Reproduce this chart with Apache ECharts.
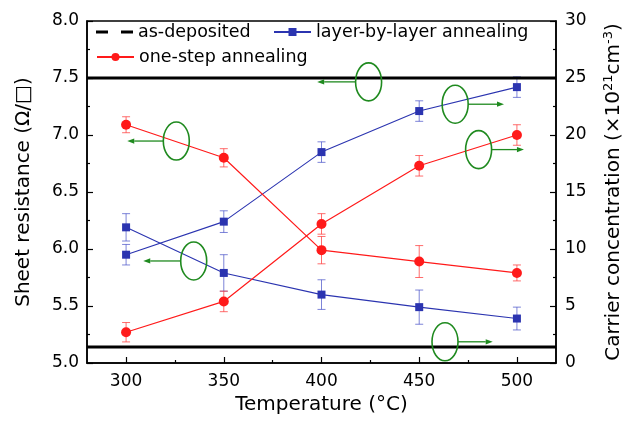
<!DOCTYPE html>
<html>
<head>
<meta charset="utf-8">
<script src="https://cdn.jsdelivr.net/npm/echarts@6/dist/echarts.min.js"></script>
<style>
  html, body { margin: 0; padding: 0; background: #fff; }
  #chart { width: 629px; height: 425px; }
</style>
</head>
<body>
<div id="chart"></div>
<script>
// Annealing temperatures (°C)
const temperatures = [300, 350, 400, 450, 500];
const xTicks = [300, 350, 400, 450, 500];
const xMinorTicks = [325, 375, 425, 475];

// Layer-by-layer annealing
const lblSheet = [6.19, 5.79, 5.60, 5.49, 5.39];       // Ω/□
const lblSheetErr = [0.12, 0.16, 0.13, 0.15, 0.10];
const lblCarrier = [9.5, 12.4, 18.5, 22.1, 24.2];      // ×10^21 cm^-3
const lblCarrierErr = [0.9, 0.95, 0.9, 0.9, 0.9];

// One-step annealing
const oneSheet = [7.09, 6.80, 5.99, 5.89, 5.79];
const oneSheetErr = [0.07, 0.08, 0.12, 0.14, 0.07];
const oneCarrier = [2.7, 5.4, 12.2, 17.3, 20.0];
const oneCarrierErr = [0.85, 0.9, 0.9, 0.9, 0.9];

// As-deposited reference levels
const asDepSheet = 7.5;
const asDepCarrier = 1.4;

// Oval call-outs: [centre temperature, centre sheet-resistance level, arrow tip temperature]
const callouts = [
  [325.7, 6.947, 300.6],
  [334.6, 5.895, 308.8],
  [424.1, 7.466, 397.8],
  [468.4, 7.270, 493.4],
  [480.4, 6.872, 503.6],
  [463.2, 5.186, 487.6]
];

const FONT = 'DejaVu Sans';
const RED = '#ff1a1a';
const BLUE = '#2b34b0';
const RED_ERR = 'rgba(255,60,60,0.75)';
const BLUE_ERR = 'rgba(70,80,200,0.7)';
const GREEN = '#1f8a1f';

function errorBars(values, errs, yAxisIndex, color) {
  return {
    type: 'custom',
    yAxisIndex: yAxisIndex,
    z: 1,
    silent: true,
    data: temperatures.map((t, i) => [t, values[i] - errs[i], values[i] + errs[i]]),
    encode: { x: 0, y: [1, 2] },
    renderItem: function (params, api) {
      const lo = api.coord([api.value(0), api.value(1)]);
      const hi = api.coord([api.value(0), api.value(2)]);
      const hw = 4;
      const st = { stroke: color, lineWidth: 1 };
      return {
        type: 'group',
        children: [
          { type: 'line', shape: { x1: lo[0], y1: lo[1], x2: hi[0], y2: hi[1] }, style: st },
          { type: 'line', shape: { x1: lo[0] - hw, y1: lo[1], x2: lo[0] + hw, y2: lo[1] }, style: st },
          { type: 'line', shape: { x1: hi[0] - hw, y1: hi[1], x2: hi[0] + hw, y2: hi[1] }, style: st }
        ]
      };
    }
  };
}

function pairs(values) {
  return temperatures.map((t, i) => [t, values[i]]);
}

const chart = echarts.init(document.getElementById('chart'), null, { renderer: 'canvas' });

const legendText = { fontFamily: FONT, fontSize: 17.5, color: '#000' };

const option = {
  animation: false,
  backgroundColor: '#fff',
  textStyle: { fontFamily: FONT, color: '#000' },
  grid: {
    left: 87, right: 73, top: 21, bottom: 62,
    outerBoundsMode: 'none',
    show: true, borderColor: '#000', borderWidth: 1.5
  },
  legend: [
    {
      left: 91, top: 18, itemWidth: 37, itemHeight: 3,
      textStyle: legendText,
      selectedMode: false,
      symbolKeepAspect: false,
      data: [
        { name: 'as-deposited', icon: 'path://M0,0h12v3h-12z M25,0h12v3h-12z', itemStyle: { color: '#000' } }
      ]
    },
    {
      left: 268, top: 18, itemWidth: 37, itemHeight: 10,
      textStyle: legendText,
      selectedMode: false,
      data: [{ name: 'layer-by-layer annealing' }]
    },
    {
      left: 91, top: 43, itemWidth: 37, itemHeight: 10,
      textStyle: legendText,
      selectedMode: false,
      data: [{ name: 'one-step annealing' }]
    }
  ],
  xAxis: [
    {
      type: 'value', min: 280, max: 520,
      name: 'Temperature (°C)', nameLocation: 'middle', nameGap: 31,
      nameTextStyle: { fontFamily: FONT, fontSize: 20, color: '#000' },
      axisLine: { show: true, lineStyle: { color: '#000', width: 1.5 } },
      axisTick: { show: true, inside: true, length: 6, customValues: xTicks, lineStyle: { color: '#000', width: 1.2 } },
      axisLabel: { customValues: xTicks, margin: 10, fontFamily: FONT, fontSize: 17, color: '#000' },
      splitLine: { show: false }
    },
    {
      type: 'value', min: 280, max: 520, position: 'bottom',
      axisLine: { show: false },
      axisTick: { show: true, inside: true, length: 3, customValues: xMinorTicks, lineStyle: { color: '#000', width: 1.2 } },
      axisLabel: { show: false },
      splitLine: { show: false }
    }
  ],
  yAxis: [
    {
      type: 'value', min: 5, max: 8, interval: 0.5, position: 'left',
      name: 'Sheet resistance (Ω/□)', nameLocation: 'middle', nameGap: 53, nameRotate: 90,
      nameTextStyle: { fontFamily: FONT, fontSize: 20, color: '#000' },
      axisLine: { show: true, lineStyle: { color: '#000', width: 1.5 } },
      axisTick: { show: true, inside: true, length: 6, lineStyle: { color: '#000', width: 1.2 } },
      minorTick: { show: true, splitNumber: 2, length: 3, lineStyle: { color: '#000', width: 1.2 } },
      axisLabel: { margin: 8, fontFamily: FONT, fontSize: 17, color: '#000', formatter: v => v.toFixed(1) },
      splitLine: { show: false }
    },
    {
      type: 'value', min: 0, max: 30, interval: 5, position: 'right',
      name: 'Carrier concentration (×10{sup|21}cm{sup|-3})', nameLocation: 'middle', nameGap: 46, nameRotate: 90,
      nameTextStyle: {
        fontFamily: FONT, fontSize: 20, color: '#000',
        rich: { sup: { fontFamily: FONT, fontSize: 13, verticalAlign: 'top', padding: [0, 0, 10, 0] } }
      },
      axisLine: { show: true, lineStyle: { color: '#000', width: 1.5 } },
      axisTick: { show: true, inside: true, length: 6, lineStyle: { color: '#000', width: 1.2 } },
      minorTick: { show: true, splitNumber: 2, length: 3, lineStyle: { color: '#000', width: 1.2 } },
      axisLabel: { margin: 9, fontFamily: FONT, fontSize: 17, color: '#000' },
      splitLine: { show: false }
    }
  ],
  series: [
    {
      name: 'as-deposited', type: 'line', yAxisIndex: 0, symbol: 'none', z: 5,
      lineStyle: { color: '#000', width: 3 }, itemStyle: { color: '#000' },
      data: [[280, asDepSheet], [520, asDepSheet]]
    },
    {
      name: 'as-deposited', type: 'line', yAxisIndex: 1, symbol: 'none', z: 5,
      lineStyle: { color: '#000', width: 3 }, itemStyle: { color: '#000' },
      data: [[280, asDepCarrier], [520, asDepCarrier]]
    },
    {
      name: 'layer-by-layer annealing', type: 'line', yAxisIndex: 0, z: 3,
      symbol: 'rect', symbolSize: 8,
      lineStyle: { color: BLUE, width: 1.1 }, itemStyle: { color: BLUE },
      data: pairs(lblSheet)
    },
    {
      name: 'layer-by-layer annealing', type: 'line', yAxisIndex: 1, z: 3,
      symbol: 'rect', symbolSize: 8,
      lineStyle: { color: BLUE, width: 1.1 }, itemStyle: { color: BLUE },
      data: pairs(lblCarrier)
    },
    {
      name: 'one-step annealing', type: 'line', yAxisIndex: 0, z: 3,
      symbol: 'circle', symbolSize: 10,
      lineStyle: { color: RED, width: 1.2 }, itemStyle: { color: RED },
      data: pairs(oneSheet)
    },
    {
      name: 'one-step annealing', type: 'line', yAxisIndex: 1, z: 3,
      symbol: 'circle', symbolSize: 10,
      lineStyle: { color: RED, width: 1.2 }, itemStyle: { color: RED },
      data: pairs(oneCarrier)
    },
    errorBars(lblSheet, lblSheetErr, 0, BLUE_ERR),
    errorBars(lblCarrier, lblCarrierErr, 1, BLUE_ERR),
    errorBars(oneSheet, oneSheetErr, 0, RED_ERR),
    errorBars(oneCarrier, oneCarrierErr, 1, RED_ERR)
  ]
};

chart.setOption(option);

// Green oval call-outs with arrows pointing to the axis each curve belongs to
function drawCallouts() {
  const rx = 13, ry = 19;
  const els = [];
  callouts.forEach(([cx, cy, tipX]) => {
    const c = chart.convertToPixel({ xAxisIndex: 0, yAxisIndex: 0 }, [cx, cy]);
    const tip = chart.convertToPixel({ xAxisIndex: 0, yAxisIndex: 0 }, [tipX, cy]);
    const dir = tip[0] > c[0] ? 1 : -1;
    const tailX = c[0] + dir * rx;
    const head = 7, hw = 2.6;
    els.push({
      type: 'ellipse', silent: true, z: 10,
      shape: { cx: c[0], cy: c[1], rx: rx, ry: ry },
      style: { fill: 'none', stroke: GREEN, lineWidth: 1.6 }
    });
    els.push({
      type: 'line', silent: true, z: 10,
      shape: { x1: tailX, y1: c[1], x2: tip[0] - dir * head, y2: c[1] },
      style: { stroke: GREEN, lineWidth: 1.3 }
    });
    els.push({
      type: 'polygon', silent: true, z: 10,
      shape: { points: [[tip[0], c[1]], [tip[0] - dir * head, c[1] - hw], [tip[0] - dir * head, c[1] + hw]] },
      style: { fill: GREEN }
    });
  });
  chart.setOption({ graphic: els });
}
drawCallouts();
</script>
</body>
</html>
